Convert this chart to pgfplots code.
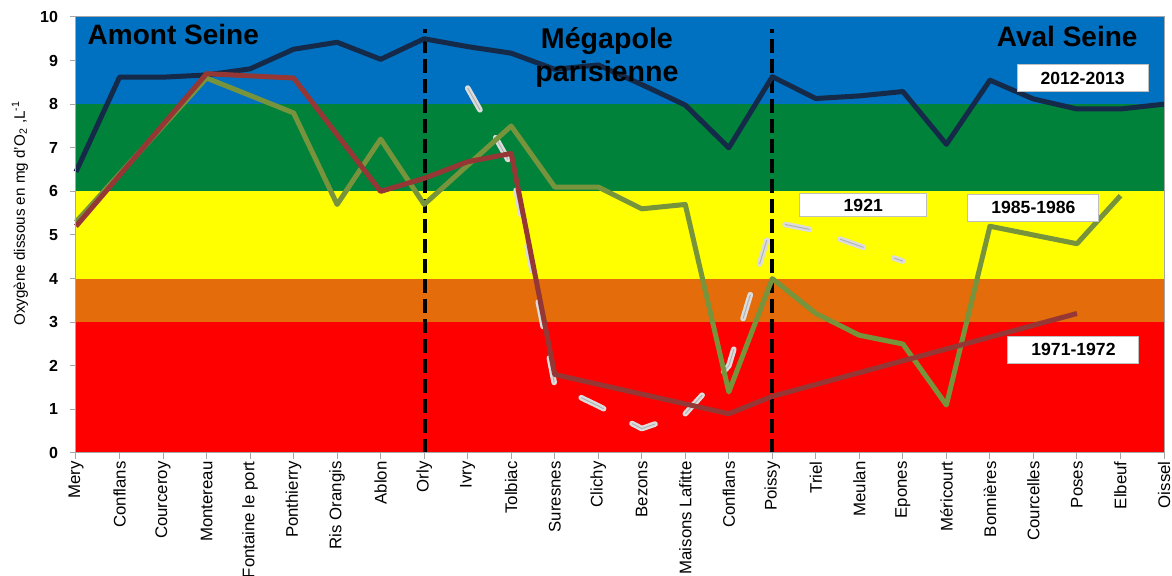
\documentclass[border=0pt]{standalone}
\usepackage{pgfplots}
\pgfplotsset{compat=1.18}
\usepackage{fontspec}
\setmainfont{Liberation Sans}
\definecolor{cBlue}{HTML}{0070C0}
\definecolor{cGreen}{HTML}{00823B}
\definecolor{cYellow}{HTML}{FFFF00}
\definecolor{cOrange}{HTML}{E46C0A}
\definecolor{cRed}{HTML}{FF0000}
\definecolor{sNavy}{HTML}{142A48}
\definecolor{sOlive}{HTML}{77933C}
\definecolor{sBrick}{HTML}{953735}
\definecolor{sGrey}{HTML}{DCDCDC}
\begin{document}
\begin{tikzpicture}
\begin{axis}[
  at={(0,0)}, anchor=south west,
  width=544pt, height=218pt, scale only axis,
  xmin=0, xmax=25, ymin=0, ymax=10,
  xtick={0,...,25},
  xticklabels={Mery,Conflans,Courceroy,Montereau,Fontaine le port,Ponthierry,Ris Orangis,Ablon,Orly,Ivry,Tolbiac,Suresnes,Clichy,Bezons,Maisons Lafitte,Conflans,Poissy,Triel,Meulan,Epones,Méricourt,Bonnières,Courcelles,Poses,Elbeuf,Oissel},
  ytick={0,...,10},
  tick align=outside, major tick length=3pt,
  xtick pos=bottom, ytick pos=left,
  axis line style={draw=gray!70, line width=0.5pt},
  tick style={gray!70, line width=0.5pt},
  xticklabel style={rotate=90, anchor=east, font=\fontsize{8.4}{10}\selectfont, inner sep=1pt},
  yticklabel style={font=\bfseries\fontsize{8}{9}\selectfont, xshift=-2.5pt},
  /pgf/number format/assume math mode=true,
  ylabel={Oxygène dissous en mg d'O\textsubscript{2} ,L\textsuperscript{-1}},
  ylabel style={at={(axis description cs:-0.0515,0.55)}, anchor=center, font=\fontsize{7.6}{9}\selectfont},
  clip=false,
  axis on top,
]
% colour bands
\addplot[fill=cRed, draw=none] coordinates {(0,0) (25,0) (25,3) (0,3)} -- cycle;
\addplot[fill=cOrange, draw=none] coordinates {(0,3) (25,3) (25,4) (0,4)} -- cycle;
\addplot[fill=cYellow, draw=none] coordinates {(0,4) (25,4) (25,6) (0,6)} -- cycle;
\addplot[fill=cGreen, draw=none] coordinates {(0,6) (25,6) (25,8) (0,8)} -- cycle;
\addplot[fill=cBlue, draw=none] coordinates {(0,8) (25,8) (25,10) (0,10)} -- cycle;
% zone separators
\addplot[black, line width=2pt, dash pattern=on 7pt off 3pt] coordinates {(8.03,0) (8.03,9.73)};
\addplot[black, line width=2pt, dash pattern=on 7pt off 3pt] coordinates {(16,0) (16,9.73)};
% 2012-2013
\addplot[sNavy, line width=2.5pt, line join=round] coordinates {
(0,6.45) (1,8.62) (2,8.62) (3,8.67) (4,8.81) (5,9.26) (6,9.42) (7,9.03) (8,9.5) (9,9.32)
(10,9.17) (11,8.8) (12,8.9) (13,8.45) (14,7.98) (15,7.0) (16,8.63) (17,8.13) (18,8.19) (19,8.29)
(20,7.08) (21,8.55) (22,8.12) (23,7.89) (24,7.89) (25,8.0)};
% 1921
\addplot[sGrey, line width=2.8pt, line cap=round, line join=round, dash pattern=on 12.5pt off 16pt,
  postaction={draw=gray!60, line width=0.5pt, line cap=butt, dash pattern=on 12.5pt off 16pt}] coordinates {
(9,8.37) (10,6.6) (11,1.56) (12,1.08) (13,0.56) (14,0.9) (15,2.0) (16,5.3) (17,5.1) (18,4.75) (19,4.4)};
% 1985-1986
\addplot[sOlive, line width=2.5pt, line join=round] coordinates {
(0,5.3) (1,6.4) (2,7.5) (3,8.6) (4,8.2) (5,7.8) (6,5.7) (7,7.2) (8,5.7) (9,6.6)
(10,7.5) (11,6.1) (12,6.1) (13,5.6) (14,5.7) (15,1.4) (16,4.0) (17,3.2) (18,2.7) (19,2.5)
(20,1.1) (21,5.2) (22,5.0) (23,4.8) (24,5.9)};
% 1971-1972
\addplot[sBrick, line width=2.5pt, line join=round] coordinates {
(0,5.2) (3,8.7) (5,8.6) (7,6.0) (8,6.3) (9,6.68) (10,6.87) (11,1.8) (15,0.9) (16,1.3) (23,3.2)};
% zone titles
\node[font=\bfseries\fontsize{14}{16}\selectfont, anchor=west, inner sep=0pt] at (axis cs:0.26,9.59) {Amont Seine};
\node[font=\bfseries\fontsize{14.3}{16.5}\selectfont, align=center, inner sep=0pt] at (axis cs:12.2,9.07) {Mégapole\\parisienne};
\node[font=\bfseries\fontsize{14}{16}\selectfont, anchor=east, inner sep=0pt] at (axis cs:24.4,9.56) {Aval Seine};
% series labels
\tikzset{serlab/.style={draw=gray!50, fill=white, line width=0.5pt, inner sep=0pt, font=\bfseries\fontsize{8.8}{10}\selectfont}}
\node[serlab, minimum width=65.5pt, minimum height=13.5pt] at (axis cs:23.13,8.59) {2012-2013};
\node[serlab, minimum width=63.5pt, minimum height=11.5pt] at (axis cs:18.09,5.68) {1921};
\node[serlab, minimum width=65.5pt, minimum height=13.5pt] at (axis cs:22.0,5.63) {1985-1986};
\node[serlab, minimum width=65.5pt, minimum height=13.5pt] at (axis cs:22.92,2.37) {1971-1972};
\end{axis}
\pgfresetboundingbox
\path (-38pt,-61.5pt) rectangle (548pt,226.5pt);
\end{tikzpicture}
\end{document}
